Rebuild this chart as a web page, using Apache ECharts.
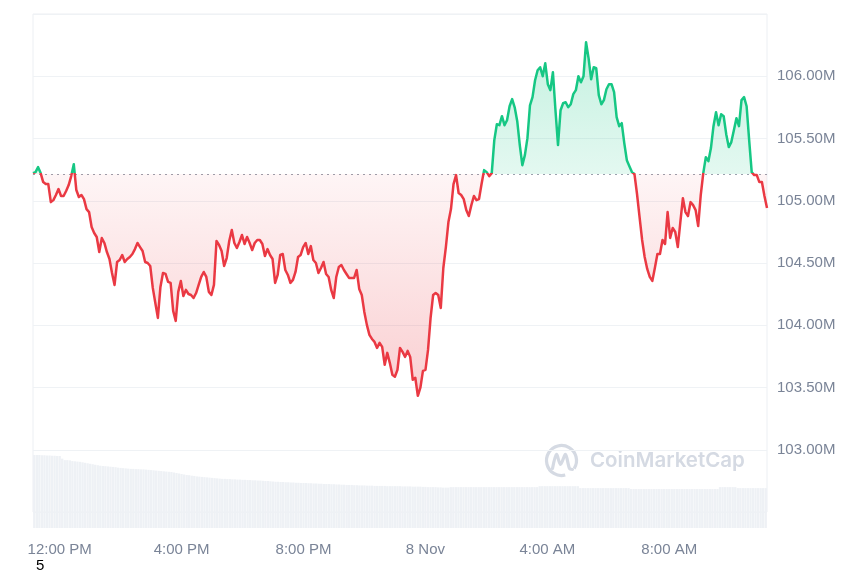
<!DOCTYPE html>
<html><head><meta charset="utf-8">
<script src="https://cdn.jsdelivr.net/npm/echarts@6/dist/echarts.min.js"></script>
<style>html,body{margin:0;padding:0;background:#fff}#c{width:860px;height:573px}</style>
</head><body><div id="c"></div>
<script>
// Opening (reference) price, drawn as the dotted baseline
const baseline = 105.214;

// Price every 5 minutes, 11:10 AM 7 Nov -> 11:10 AM 8 Nov (in millions)
const prices = [
105.222,105.230,105.270,105.222,105.150,105.134,105.134,104.989,105.005,105.046,
105.094,105.038,105.038,105.078,105.126,105.198,105.294,105.086,105.030,105.046,
105.013,104.933,104.909,104.789,104.741,104.709,104.588,104.701,104.661,104.588,
104.532,104.420,104.324,104.508,104.524,104.564,104.508,104.532,104.548,104.572,
104.612,104.661,104.628,104.596,104.508,104.500,104.476,104.300,104.179,104.059,
104.308,104.420,104.412,104.348,104.340,104.115,104.035,104.268,104.356,104.235,
104.284,104.251,104.243,104.219,104.259,104.324,104.388,104.428,104.388,104.268,
104.243,104.324,104.677,104.645,104.596,104.476,104.540,104.677,104.765,104.661,
104.620,104.669,104.725,104.653,104.709,104.661,104.604,104.661,104.685,104.685,
104.653,104.556,104.612,104.564,104.532,104.340,104.404,104.564,104.572,104.444,
104.404,104.340,104.364,104.428,104.548,104.564,104.628,104.661,104.572,104.636,
104.524,104.500,104.420,104.460,104.508,104.412,104.388,104.284,104.219,104.388,
104.468,104.484,104.444,104.412,104.380,104.380,104.380,104.444,104.292,104.243,
104.107,104.003,103.923,103.890,103.866,103.818,103.858,103.826,103.682,103.778,
103.698,103.602,103.586,103.642,103.818,103.786,103.746,103.794,103.746,103.562,
103.578,103.433,103.498,103.634,103.642,103.802,104.059,104.243,104.259,104.243,
104.139,104.460,104.628,104.829,104.933,105.134,105.206,105.062,105.046,105.013,
104.925,104.877,104.965,105.038,105.005,105.013,105.134,105.246,105.230,105.198,
105.222,105.487,105.615,105.607,105.679,105.607,105.647,105.759,105.816,105.751,
105.639,105.447,105.286,105.366,105.503,105.767,105.832,105.968,106.048,106.072,
106.000,106.104,105.936,105.888,106.032,105.727,105.447,105.727,105.783,105.791,
105.751,105.775,105.856,105.888,106.000,105.952,106.000,106.273,106.144,105.976,
106.072,106.064,105.848,105.775,105.808,105.896,105.936,105.936,105.872,105.671,
105.599,105.623,105.463,105.326,105.278,105.230,105.214,105.054,104.869,104.685,
104.548,104.452,104.388,104.356,104.460,104.572,104.572,104.685,104.653,104.909,
104.701,104.781,104.749,104.628,104.829,105.021,104.909,104.877,104.989,104.965,
104.925,104.797,105.046,105.222,105.350,105.318,105.423,105.599,105.711,105.607,
105.695,105.679,105.535,105.431,105.471,105.567,105.663,105.599,105.808,105.832,
105.759,105.487,105.230,105.206,105.206,105.150,105.150,105.038,104.941
];

// Volume (arbitrary units, same time steps)
const volumes = [
3.00,3.00,3.00,2.99,2.99,2.98,2.98,2.97,2.97,2.96,2.96,
2.85,2.79,2.79,2.78,
2.75,2.74,2.73,2.72,2.70,2.68,
2.66,2.64,2.62,2.60,2.58,2.56,
2.55,2.54,2.53,2.52,2.51,2.50,2.48,2.47,
2.46,2.45,2.44,2.43,2.43,2.42,2.42,2.41,2.41,2.40,2.39,2.38,
2.37,2.36,2.35,2.34,2.33,2.32,2.31,2.30,2.28,2.26,
2.24,2.22,2.20,2.18,2.17,2.15,2.14,2.12,2.11,2.10,
2.09,2.08,2.07,2.06,2.05,2.04,2.03,2.02,2.02,2.01,
2.01,2.00,2.00,1.99,1.99,1.98,1.98,1.97,1.97,1.96,
1.96,1.95,1.95,1.94,1.93,1.93,1.92,1.91,1.90,1.90,
1.89,1.89,1.88,1.88,1.87,1.87,1.86,1.86,1.85,1.85,
1.85,1.84,1.84,1.83,1.83,1.82,1.82,1.81,1.81,1.81,
1.80,1.80,1.79,1.79,1.78,1.78,1.77,1.77,1.77,1.76,
1.76,1.75,1.75,1.75,1.74,1.74,1.74,1.73,1.73,1.73,
1.73,1.73,1.72,1.72,1.72,1.72,1.72,1.72,1.71,1.71,
1.71,1.71,1.70,1.70,1.70,1.70,1.69,1.69,1.68,1.68,
1.68,1.68,1.67,1.67,1.66,1.66,1.66,
1.68,1.68,1.68,1.68,1.68,1.68,1.68,1.68,1.68,1.68,
1.68,1.68,1.68,1.68,1.68,1.68,1.68,1.68,1.68,1.68,
1.68,1.68,1.68,1.68,1.68,1.68,1.68,1.68,1.68,1.68,
1.68,1.68,1.68,1.68,1.68,
1.72,1.72,1.72,1.72,1.72,1.72,1.72,1.72,1.72,1.72,
1.72,1.72,1.72,1.72,1.72,1.72,
1.64,1.64,1.64,1.64,1.64,1.64,1.64,1.64,1.64,1.64,
1.64,1.64,1.64,1.64,1.64,1.64,1.64,1.64,1.64,1.64,
1.60,1.60,1.60,1.60,1.60,1.60,1.60,1.60,1.60,1.60,
1.60,1.60,1.60,1.60,1.60,1.60,1.60,1.60,1.60,1.60,
1.60,1.60,1.60,1.60,1.60,1.60,1.60,1.60,1.60,1.60,
1.60,1.60,1.60,1.60,1.60,
1.68,1.68,1.68,1.68,1.68,1.68,1.68,
1.64,1.64,1.64,1.64,1.64,1.64,1.64,1.64,1.64,1.64,1.64,1.64
];

const xTickLabels = ['12:00 PM','4:00 PM','8:00 PM','8 Nov','4:00 AM','8:00 AM'];
const yTickLabels = [103, 103.5, 104, 104.5, 105, 105.5, 106];

// time categories (5-minute steps starting 11:10 AM, 7 Nov)
const categories = [];
for (let i = 0; i < prices.length; i++) {
  const t = 11 * 60 + 10 + i * 5;
  const day = 7 + Math.floor(t / 1440);
  const m = t % 1440;
  const h = Math.floor(m / 60), mm = m % 60;
  if (m === 0) { categories.push(day + ' Nov'); }
  else {
    let h12 = h % 12; if (h12 === 0) h12 = 12;
    categories.push(h12 + ':' + String(mm).padStart(2, '0') + ' ' + (h < 12 ? 'AM' : 'PM'));
  }
}

const GREEN = '#16c784', RED = '#ea3943';
const maxP = Math.max.apply(null, prices), minP = Math.min.apply(null, prices);
const off = (maxP - baseline) / (maxP - minP);

const chart = echarts.init(document.getElementById('c'), null, {renderer: 'canvas'});
const labelColor = '#7a8497';
chart.setOption({
  animation: false,
  backgroundColor: '#ffffff',
  grid: [
    {left: 33, right: 93, top: 14, bottom: 61, show: true, borderColor: '#eceff3', borderWidth: 1, backgroundColor: 'transparent'},
    {left: 33, right: 93, top: 455, bottom: 45}
  ],
  xAxis: [
    {type: 'category', gridIndex: 0, data: categories, boundaryGap: false, show: false},
    {type: 'category', gridIndex: 1, data: categories, boundaryGap: true,
     axisLine: {show: false}, axisTick: {show: false}, splitLine: {show: false},
     axisLabel: {
       interval: function (idx, val) { return xTickLabels.indexOf(val) >= 0; },
       color: labelColor, fontSize: 15, fontFamily: 'Liberation Sans, Arial, sans-serif', margin: 14
     }}
  ],
  yAxis: [
    {type: 'value', gridIndex: 0, position: 'right', min: 102.5, max: 106.5, interval: 0.5,
     axisLine: {show: false}, axisTick: {show: false},
     splitLine: {show: true, lineStyle: {color: '#eff2f5', width: 1}},
     axisLabel: {
       color: labelColor, fontSize: 15, fontFamily: 'Liberation Sans, Arial, sans-serif', margin: 10,
       formatter: function (v) { return yTickLabels.some(function (t) { return Math.abs(t - v) < 1e-6; }) ? v.toFixed(2) + 'M' : ''; }
     }},
    {type: 'value', gridIndex: 1, min: 0, max: 3, show: false}
  ],
  series: [
    {
      type: 'line', xAxisIndex: 0, yAxisIndex: 0, data: prices, symbol: 'none', z: 5,
      lineStyle: {width: 2.5, join: 'round',
        color: {type: 'linear', x: 0, y: 0, x2: 0, y2: 1, colorStops: [
          {offset: 0, color: GREEN}, {offset: off, color: GREEN},
          {offset: off, color: RED}, {offset: 1, color: RED}
        ]}
      },
      areaStyle: {
        origin: baseline,
        color: {type: 'linear', x: 0, y: 0, x2: 0, y2: 1, colorStops: [
          {offset: 0, color: 'rgba(22,199,132,0.36)'},
          {offset: off, color: 'rgba(22,199,132,0.17)'},
          {offset: off, color: 'rgba(234,57,67,0.07)'},
          {offset: 1, color: 'rgba(234,57,67,0.35)'}
        ]}
      },
      markLine: {
        silent: true, symbol: 'none', label: {show: false},
        lineStyle: {color: '#9aa1ad', type: [2, 4], width: 1.2},
        data: [{yAxis: baseline}]
      }
    },
    {
      type: 'bar', xAxisIndex: 1, yAxisIndex: 1, data: volumes, barCategoryGap: '10%',
      itemStyle: {color: '#eef1f5'}, z: 1
    }
  ],
  graphic: [
    {type: 'group', left: 544, top: 443, z: 0, children: [
      {type: 'arc', shape: {cx: 17, cy: 16, r: 15, startAngle: Math.PI * 0.42, endAngle: Math.PI * 2.18},
       style: {stroke: '#d5dae3', lineWidth: 3.2, fill: null}},
      {type: 'polyline', shape: {points: [[8, 24], [12, 10], [16, 20], [21, 10], [25, 24], [28, 25]], smooth: 0.3},
       style: {stroke: '#d5dae3', lineWidth: 3.2, fill: null, lineJoin: 'round', lineCap: 'round'}}
    ]},
    {type: 'text', left: 590, top: 450, z: 0,
     style: {text: 'CoinMarketCap', font: '600 20.5px Inter, "Liberation Sans", sans-serif', fill: '#d5dae3'}},
    {type: 'text', left: 36, top: 558,
     style: {text: '5', font: '15px "Liberation Sans", Arial, sans-serif', fill: '#000'}}
  ]
});
</script></body></html>
